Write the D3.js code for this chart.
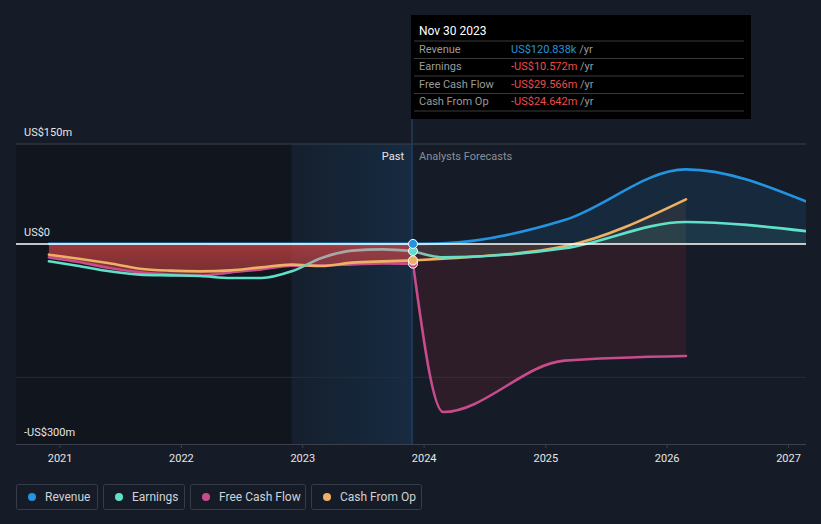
<!DOCTYPE html>
<html><head><meta charset="utf-8">
<script src="https://cdn.jsdelivr.net/npm/d3@7"></script>
<style>
html,body{margin:0;padding:0;background:#151c27;}
svg{display:block;font-family:Roboto,"Noto Sans",sans-serif;}
</style></head>
<body><svg id="chart" width="821" height="524"></svg>
<script>
const pastDates = ["2020-11-30","2021-02-28","2021-05-31","2021-08-31","2021-11-30","2022-02-28","2022-05-31","2022-08-31","2022-11-30","2023-02-28","2023-05-31","2023-08-31","2023-11-30"];
const foreDates = ["2023-11-30","2024-02-29","2025-02-28","2026-02-28","2027-02-28"];
const revenuePast  = [0.4,0.4,0.3,0.3,0.3,0.3,0.2,0.2,0.2,0.2,0.15,0.12,0.121];
const earningsPast = [-26,-33,-41,-46,-47,-48,-51,-51,-41,-21,-10,-8,-10.572];
const fcfPast      = [-20,-27,-36,-42.5,-46,-47.5,-42.5,-38,-32.5,-32,-30.5,-29,-29.566];
const cfoPast      = [-16,-22,-29,-37,-40,-41,-39.5,-35,-31,-33,-28,-26,-24.642];
const revenueFc  = [0.121,1,36,112,63];
const earningsFc = [-10.572,-20,-6.5,33,19];
const fcfFc      = [-29.566,-252,-175,-168];
const cfoFc      = [-24.642,-22,-3.5,67];
const yearTicks = [2021,2022,2023,2024,2025,2026,2027];
const yTickVals = [150,0,-300];
const yTickLabels = ["US$150m","US$0","-US$300m"];
const seriesNames = ["Revenue","Earnings","Free Cash Flow","Cash From Op"];
const seriesColors = ["#2394df","#5fe0c8","#c84b8c","#eeb064"];
const tipDate = "Nov 30 2023";
const tipValues = ["US$120.838k","-US$10.572m","-US$29.566m","-US$24.642m"];

const parse = d3.timeParse("%Y-%m-%d");
const svg = d3.select("#chart");
const L = 16, R = 806, T = 144, B = 444;
const x = d3.scaleTime().domain([parse("2020-08-23"), parse("2027-02-24")]).range([L, R]);
const y = d3.scaleLinear().domain([-300,150]).range([B, T]);

const pd = pastDates.map(parse), fd = foreDates.map(parse);
const bandStart = parse("2022-11-30"), now = parse("2023-11-30");

const defs = svg.append("defs");
defs.append("clipPath").attr("id","clip").append("rect").attr("x",L).attr("y",0).attr("width",R-L).attr("height",B);
const bg = defs.append("linearGradient").attr("id","band").attr("x1","0").attr("x2","1").attr("y1","0").attr("y2","0");
bg.append("stop").attr("offset","0").attr("stop-color","#1a5fa0").attr("stop-opacity",0.05);
bg.append("stop").attr("offset","1").attr("stop-color","#1a5fa0").attr("stop-opacity",0.22);
const rg = defs.append("linearGradient").attr("id","redfill").attr("gradientUnits","userSpaceOnUse")
  .attr("x1",0).attr("x2",0).attr("y1",y(0)).attr("y2",y(-50));
rg.append("stop").attr("offset","0").attr("stop-color","#d74646").attr("stop-opacity",0.7);
rg.append("stop").attr("offset","1").attr("stop-color","#d74646").attr("stop-opacity",0.5);
const eg = defs.append("linearGradient").attr("id","earnGrad").attr("gradientUnits","userSpaceOnUse")
  .attr("x1",L).attr("x2",R).attr("y1",0).attr("y2",0);
const off = v => (v - L)/(R - L);
[[x(bandStart)+2,"#5fe0c8"],[x(bandStart)+25,"#a3a9aa"],[x(now),"#a3a9aa"],[x(now)+30,"#5fe0c8"]]
  .forEach(([px,c]) => eg.append("stop").attr("offset",off(px)).attr("stop-color",c));

// background regions
svg.append("rect").attr("x",L).attr("y",T).attr("width",x(bandStart)-L).attr("height",B-T).attr("fill","#000").attr("opacity",0.22);
svg.append("rect").attr("x",x(bandStart)).attr("y",T).attr("width",x(now)-x(bandStart)).attr("height",B-T).attr("fill","url(#band)");

// gridlines
svg.append("line").attr("x1",L).attr("x2",R).attr("y1",y(150)).attr("y2",y(150)).attr("stroke","#3a414b").attr("stroke-width",1);
svg.append("line").attr("x1",L).attr("x2",R).attr("y1",y(-200)).attr("y2",y(-200)).attr("stroke","#262d37").attr("stroke-width",1);

const g = svg.append("g").attr("clip-path","url(#clip)");
const line = d3.line().curve(d3.curveMonotoneX);
const area = d3.area().curve(d3.curveMonotoneX);
function pts(dates, vals){ return vals.map((v,i)=>[x(dates[i]), y(v)]); }
function areaPath(dates, vals){
  return area.x((d,i)=>x(dates[i])).y0(y(0)).y1(d=>y(d))(vals);
}

// forecast fills
g.append("path").attr("d",areaPath(fd,revenueFc)).attr("fill","#2880d0").attr("opacity",0.13);
g.append("path").attr("d",areaPath(fd,earningsFc)).attr("fill","#5fe0c8").attr("opacity",0.08);
g.append("path").attr("d",areaPath(fd,cfoFc)).attr("fill","#eeb064").attr("opacity",0.08);
g.append("path").attr("d",areaPath(fd,fcfFc)).attr("fill","#c8283c").attr("opacity",0.13);
// past FCF fill
g.append("path").attr("d",areaPath(pd,fcfPast)).attr("fill","url(#redfill)");

// zero line
svg.append("line").attr("x1",L).attr("x2",R).attr("y1",y(0)).attr("y2",y(0)).attr("stroke","#ffffff").attr("stroke-width",1.5);

// vertical now line
svg.append("line").attr("x1",x(now)-1).attr("x2",x(now)-1).attr("y1",119).attr("y2",B).attr("stroke","#1f3d5a").attr("stroke-width",1.5);

// lines
const sets = [
  [fcfPast, fcfFc, seriesColors[2]],
  [cfoPast, cfoFc, seriesColors[3]],
  [earningsPast, earningsFc, "url(#earnGrad)"],
  [revenuePast, revenueFc, seriesColors[0]]
];
sets.forEach(([p,f,c]) => {
  g.append("path").attr("d",line(pts(pd,p))).attr("fill","none").attr("stroke",c).attr("stroke-width",2.6).attr("stroke-linecap","round");
  g.append("path").attr("d",line(pts(fd,f))).attr("fill","none").attr("stroke",c).attr("stroke-width",2.6).attr("stroke-linecap","round");
});

// dots
[[fcfPast,seriesColors[2]],[cfoPast,seriesColors[3]],[earningsPast,seriesColors[1]],[revenuePast,seriesColors[0]]].forEach(([p,c])=>{
  svg.append("circle").attr("cx",x(now)).attr("cy",y(p[p.length-1])).attr("r",4.5).attr("fill",c).attr("stroke","#fff").attr("stroke-width",1);
});

// y labels
yTickVals.forEach((v,i)=>{
  svg.append("text").attr("x",24).attr("y",y(v)-8).text(yTickLabels[i]).attr("fill","#e6e6e6").attr("font-size",11);
});

// x axis
const xa = svg.append("g").attr("transform",`translate(0,${B})`)
  .call(d3.axisBottom(x).tickValues(yearTicks.map(yy=>new Date(yy,0,1))).tickFormat(d3.timeFormat("%Y")).tickSize(4).tickPadding(6));
xa.select(".domain").attr("stroke","#3a414b").attr("d",`M${L},0.5H${R}`);
xa.selectAll(".tick line").attr("stroke","#3a414b");
xa.selectAll(".tick text").attr("fill","#e6e6e6").attr("font-size",11).attr("font-family","Roboto, sans-serif");

// Past / Analysts Forecasts
svg.append("text").attr("x",x(now)-9).attr("y",160).attr("text-anchor","end").text("Past").attr("fill","#e6e6e6").attr("font-size",11);
svg.append("text").attr("x",x(now)+6).attr("y",160).text("Analysts Forecasts").attr("fill","#8a8f96").attr("font-size",11);

// tooltip
const tip = svg.append("g");
tip.append("rect").attr("x",411).attr("y",15).attr("width",340).attr("height",104).attr("fill","#000");
tip.append("text").attr("x",419).attr("y",35).text(tipDate).attr("fill","#fff").attr("font-size",12);
const rowY = [49,66,84,101];
[41,58.5,76,93.5,111].forEach(yy=>tip.append("line").attr("x1",414).attr("x2",744).attr("y1",yy).attr("y2",yy).attr("stroke","#3a3a3a").attr("stroke-width",1));
seriesNames.forEach((n,i)=>{
  tip.append("text").attr("x",419).attr("y",rowY[i]+4).text(n).attr("fill","#9a9a9a").attr("font-size",11);
  const t = tip.append("text").attr("x",511).attr("y",rowY[i]+4).attr("font-size",11);
  t.append("tspan").text(tipValues[i]).attr("fill", i===0 ? "#2394df" : "#f04a4a");
  t.append("tspan").text(" /yr").attr("fill","#9a9a9a");
});

// legend
const legX = [16,103,190,311], legW = [81,81,115,110];
seriesNames.forEach((n,i)=>{
  const lg = svg.append("g").attr("transform",`translate(${legX[i]},484)`);
  lg.append("rect").attr("x",0.5).attr("y",0.5).attr("width",legW[i]).attr("height",25).attr("rx",2).attr("fill","none").attr("stroke","#363d49");
  lg.append("circle").attr("cx",16).attr("cy",13).attr("r",4).attr("fill",seriesColors[i]);
  lg.append("text").attr("x",29).attr("y",17).text(n).attr("fill","#cfd2d6").attr("font-size",12);
});
</script></body></html>
